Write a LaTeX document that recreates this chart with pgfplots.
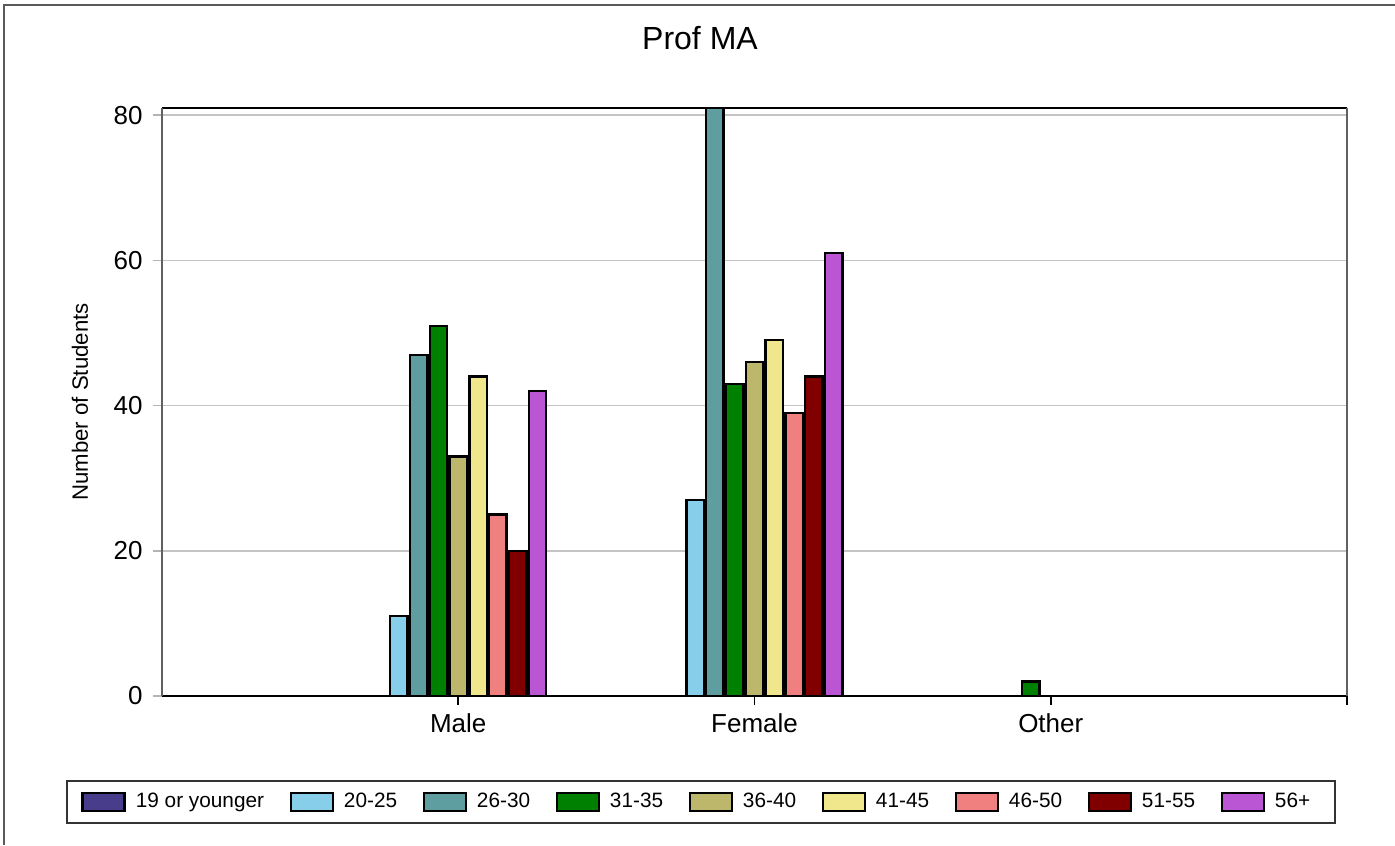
\documentclass[border=0pt]{standalone}
\usepackage{fontspec}
\setmainfont{Liberation Sans}
\usepackage{pgfplots}
\pgfplotsset{compat=1.18}
\definecolor{c1}{HTML}{483D8B}
\definecolor{c2}{HTML}{87CEEB}
\definecolor{c3}{HTML}{5F9EA0}
\definecolor{c4}{HTML}{008000}
\definecolor{c5}{HTML}{BDB76B}
\definecolor{c6}{HTML}{F0E68C}
\definecolor{c7}{HTML}{F08080}
\definecolor{c8}{HTML}{800000}
\definecolor{c9}{HTML}{BA55D3}
\definecolor{framec}{HTML}{5A5A5A}
\definecolor{gridc}{HTML}{C4C4C4}
\definecolor{ytickc}{HTML}{B4B4B4}
\definecolor{yaxc}{HTML}{606060}
\begin{document}
\begin{tikzpicture}
\useasboundingbox (0,0) rectangle (697.5pt,422.5pt);
\draw[color=framec, line width=1.2pt] (2pt,0) -- (2pt,420pt) -- (697.5pt,420pt);
\begin{axis}[
  at={(81pt,74.5pt)}, anchor=south west, scale only axis,
  width=592.5pt, height=294pt,
  xmin=0, xmax=4, ymin=0, ymax=81,
  ybar=1.2pt, bar width=8.7pt, clip=false,
  xtick={1,2,3,4}, xticklabels={Male,Female,Other,{}},
  ytick={0,20,40,60,80},
  axis line style={draw=none},
  tick align=outside, major tick length=4.5pt,
  xtick pos=bottom, ytick pos=left,
  x tick style={black, line width=0.8pt},
  y tick style={ytickc, line width=0.8pt},
  ymajorgrids, grid style={gridc, line width=0.8pt},
  /pgf/number format/assume math mode=true,
  yticklabel style={font=\fontsize{13}{15}\selectfont, anchor=east, inner sep=0pt, xshift=-5pt},
  xticklabel style={font=\fontsize{13}{15}\selectfont, anchor=north, inner sep=0pt, yshift=-4pt},
  title={Prof MA},
  title style={font=\fontsize{16}{19}\selectfont, at={(axis description cs:0.454,1.0986)}, anchor=center, inner sep=0pt},
  ylabel={Number of Students},
  ylabel style={font=\fontsize{11.1}{13}\selectfont, at={(axis description cs:-0.0692,0.5)}, anchor=center, rotate=0, inner sep=0pt},
  every axis plot post/.append style={draw=black, line width=1.2pt},
  legend columns=9,
  legend image code/.code={\draw[#1, line width=1.2pt] (0pt,-4.5pt) rectangle (21pt,4.5pt);},
  legend style={draw=none, fill=none, inner sep=0pt, at={(axis description cs:0,0)}, anchor=west,
    xshift=-40.5pt, yshift=-53pt, font=\fontsize{10.4}{12}\selectfont,
    nodes={inner sep=0pt},
    /tikz/every odd column/.append style={column sep=5pt},
    /tikz/every even column/.append style={column sep=12.7pt}},
  legend cell align=left,
]
\addplot[fill=c1] coordinates {(1,0) (2,0) (3,0)};
\addplot[fill=c2] coordinates {(1,11) (2,27) (3,0)};
\addplot[fill=c3] coordinates {(1,47) (2,81) (3,0)};
\addplot[fill=c4] coordinates {(1,51) (2,43) (3,2)};
\addplot[fill=c5] coordinates {(1,33) (2,46) (3,0)};
\addplot[fill=c6] coordinates {(1,44) (2,49) (3,0)};
\addplot[fill=c7] coordinates {(1,25) (2,39) (3,0)};
\addplot[fill=c8] coordinates {(1,20) (2,44) (3,0)};
\addplot[fill=c9] coordinates {(1,42) (2,61) (3,0)};
\legend{19 or younger,20-25,26-30,31-35,36-40,41-45,46-50,51-55,56+}
\draw[black, line width=1pt] (rel axis cs:0,0) -- (rel axis cs:1,0);
\draw[black, line width=1pt] (rel axis cs:0,1) -- (rel axis cs:1,1);
\draw[yaxc, line width=1pt] (rel axis cs:0,0) -- (rel axis cs:0,1);
\draw[yaxc, line width=1pt] (rel axis cs:1,0) -- (rel axis cs:1,1);
\end{axis}
\draw[black!80, line width=0.8pt] (33.5pt,11pt) rectangle (667.5pt,32pt);
\end{tikzpicture}
\end{document}
